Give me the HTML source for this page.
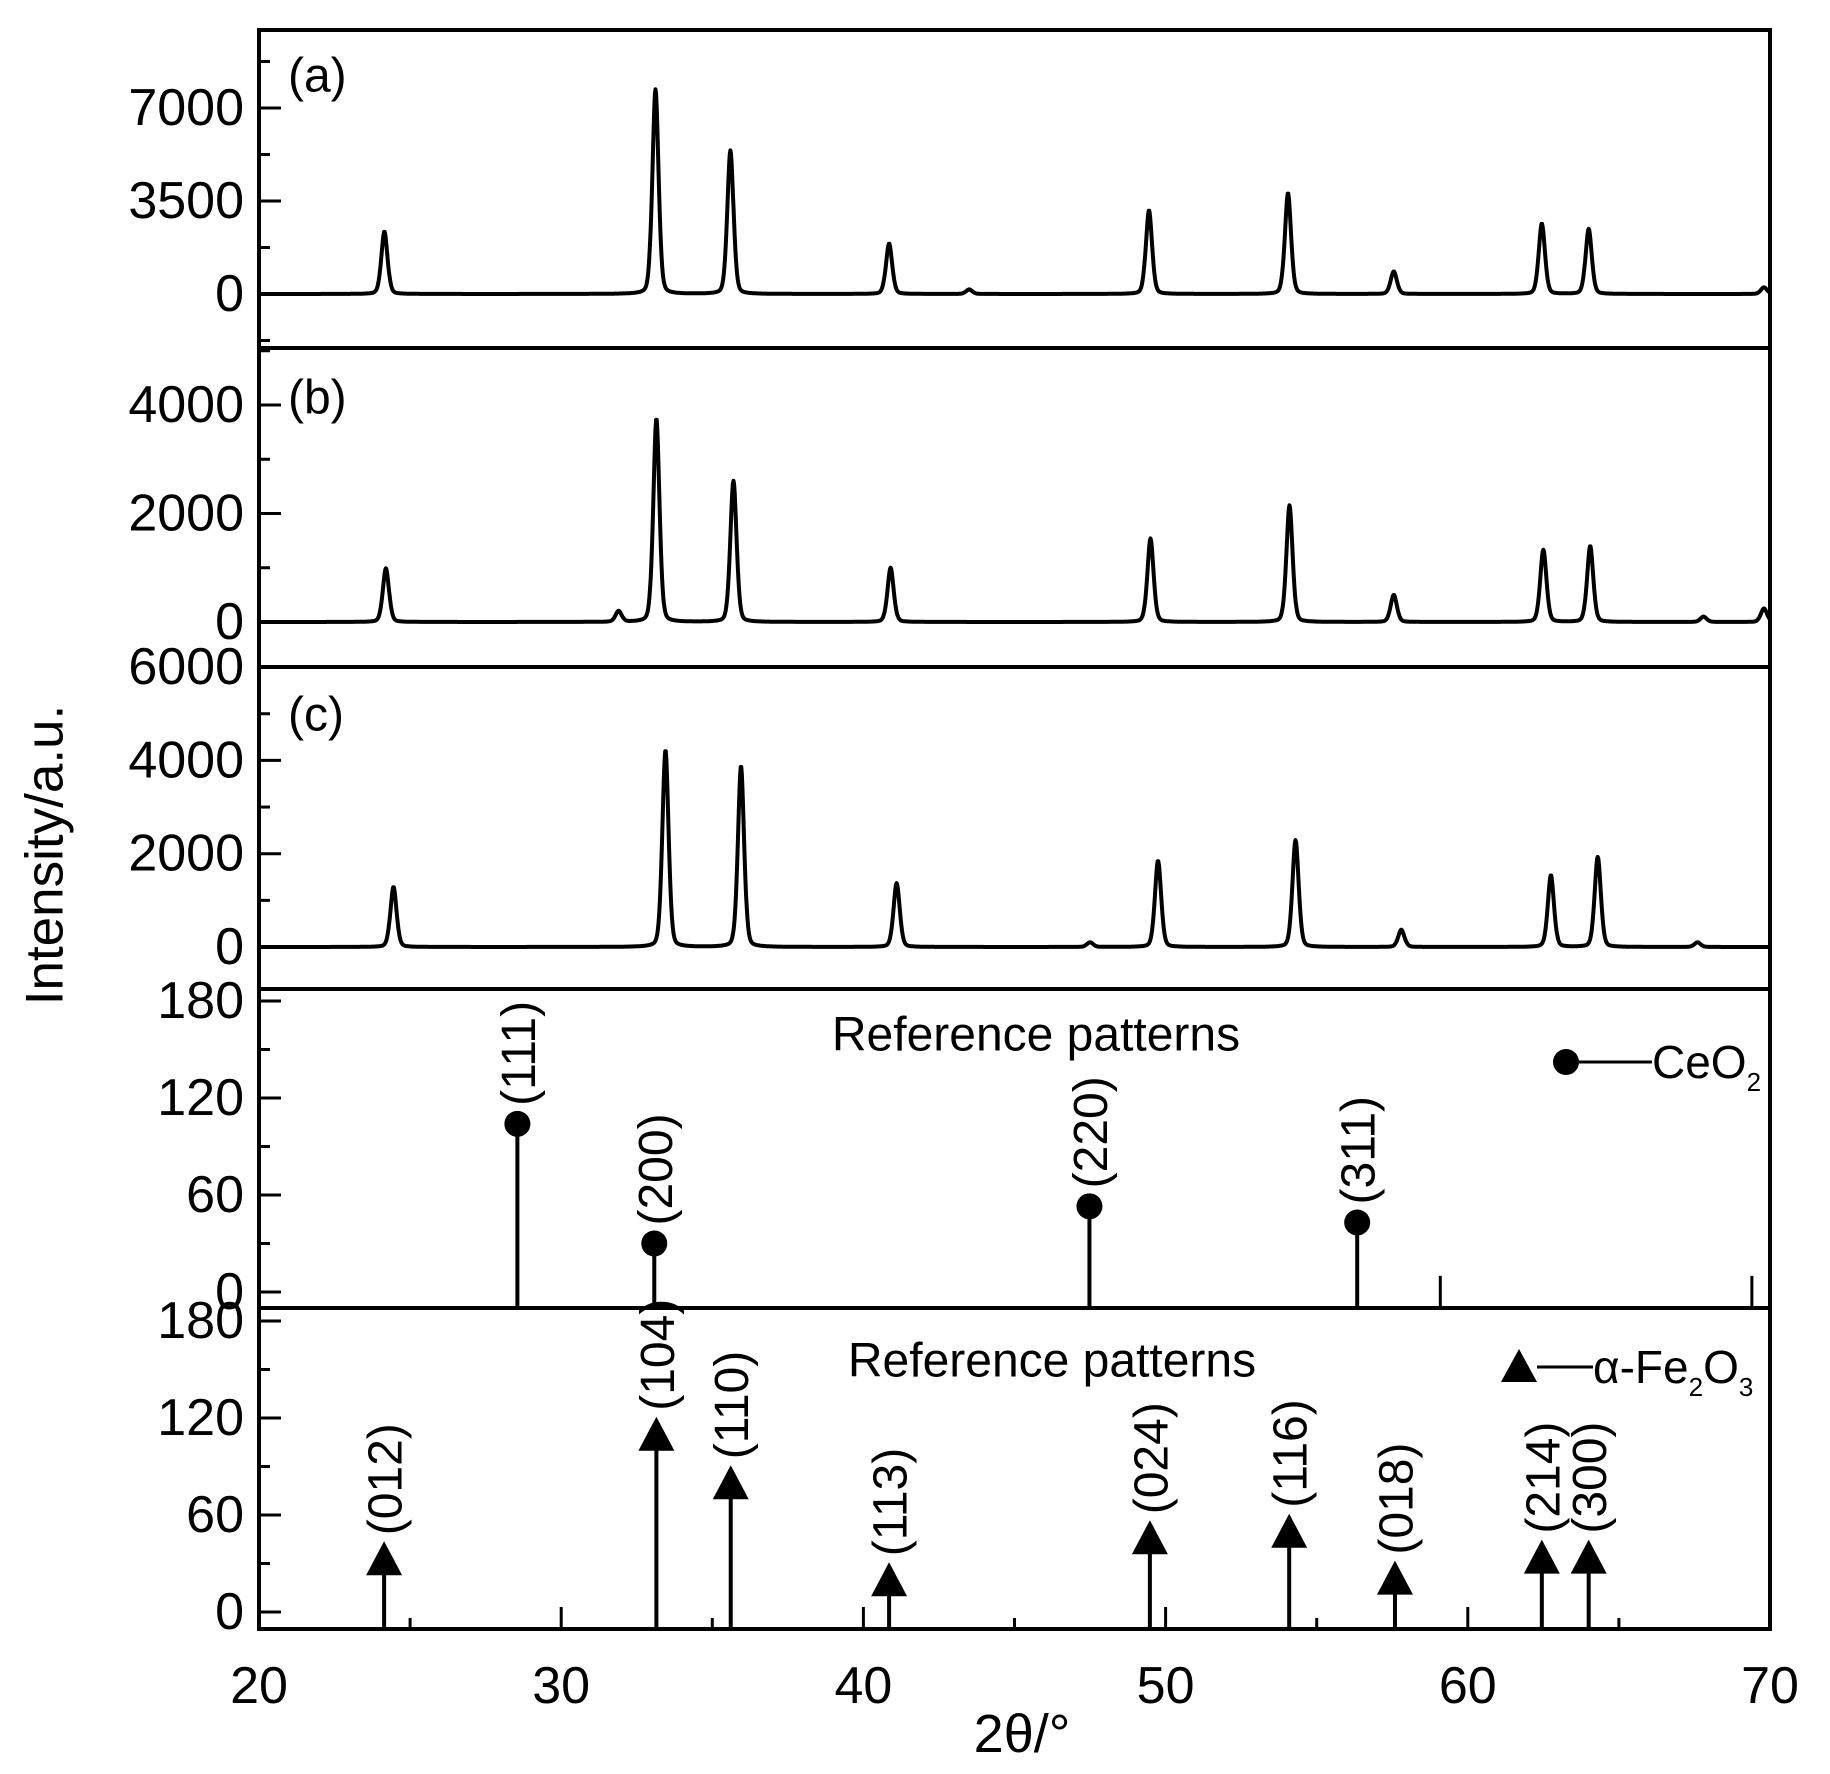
<!DOCTYPE html>
<html><head><meta charset="utf-8"><style>
html,body{margin:0;padding:0;background:#fff}
svg{display:block}
text{font-family:"Liberation Sans",Arial,sans-serif;fill:#000}
</style></head><body>
<svg id="chart" width="1830" height="1774" viewBox="0 0 1830 1774" xmlns="http://www.w3.org/2000/svg"></svg>
<script>
// ---- data ----
const xTicks = [20,30,40,50,60,70];
const peaksA_pos = [24.15,33.12,35.6,40.85,43.5,49.45,54.05,57.55,62.45,64.0,69.8];
const peaksA_h   = [2350,7700,5400,1900,170,3150,3800,850,2650,2450,250];
const peaksB_pos = [24.2,31.9,33.15,35.7,40.9,49.5,54.1,57.55,62.5,64.05,67.8,69.8];
const peaksB_h   = [990,200,3750,2600,1000,1540,2150,500,1330,1400,100,250];
const peaksC_pos = [24.45,33.45,35.95,41.1,47.5,49.75,54.3,57.8,62.75,64.3,67.6];
const peaksC_h   = [1290,4220,3880,1370,100,1850,2290,370,1540,1930,100];
const ceo2_pos = [28.55,33.08,47.48,56.34];
const ceo2_val = [104,30,53,43];
const ceo2_hkl = ["(111)","(200)","(220)","(311)"];
const ceo2_minor_pos = [59.09,69.4];
const ceo2_minor_val = [10,10];
const fe_pos = [24.14,33.15,35.61,40.85,49.48,54.09,57.59,62.45,64.0];
const fe_val = [32,109,79,19,45,49,20,33,33];
const fe_hkl = ["(012)","(104)","(110)","(113)","(024)","(116)","(018)","(214)","(300)"];

// ---- layout ----
const X0=259, X1=1770;
const xs = v => X0 + (v-20)/(70-20)*(X1-X0);
const svg = document.getElementById('chart');
const NS='http://www.w3.org/2000/svg';
function el(tag, attrs, parent){const e=document.createElementNS(NS,tag);for(const k in attrs)e.setAttribute(k,attrs[k]);(parent||svg).appendChild(e);return e;}

const panels = [
 {name:'panel-a', top:30, bottom:348, y0:294, unit:3500, px:93, major:[0,3500,7000], minor:[-1750,1750,5250,8750], labels:["0","3500","7000"], tag:"(a)", tagY:76, pos:peaksA_pos, h:peaksA_h},
 {name:'panel-b', top:348, bottom:667, y0:622, unit:2000, px:108.5, major:[0,2000,4000], minor:[1000,3000,5000], labels:["0","2000","4000"], tag:"(b)", tagY:398, pos:peaksB_pos, h:peaksB_h},
 {name:'panel-c', top:667, bottom:989, y0:947, unit:2000, px:93.3, major:[0,2000,4000,6000], minor:[1000,3000,5000], labels:["0","2000","4000","6000"], tag:"(c)", tagY:715, pos:peaksC_pos, h:peaksC_h},
 {name:'panel-ceo2', top:989, bottom:1308, y0:1292, unit:60, px:97, major:[0,60,120,180], minor:[30,90,150], labels:["0","60","120","180"]},
 {name:'panel-fe2o3', top:1308, bottom:1629, y0:1612, unit:60, px:97, major:[0,60,120,180], minor:[30,90,150], labels:["0","60","120","180"]}
];

panels.forEach(p=>{
  const g = el('g',{});
  
  
  const ys = v => p.y0 - v/p.unit*p.px;
  p.major.forEach((v,i)=>{
    const y=ys(v);
    const t=el('line',{x1:X0,x2:X0+22,y1:y,y2:y,stroke:'#000','stroke-width':3},g);
     
    const lb=el('text',{x:244,y:y,'font-size':52,'text-anchor':'end','dominant-baseline':'central'},g);
    lb.textContent=p.labels[i];
     
  });
  p.minor.forEach(v=>{
    const y=ys(v); if(y<p.top+2||y>p.bottom-2) return;
    const t=el('line',{x1:X0,x2:X0+11,y1:y,y2:y,stroke:'#000','stroke-width':3},g);
     
  });
  if(p.pos){
    let d='';
    for(let x=20;x<=70.0001;x+=0.02){
      let v=0;
      for(let k=0;k<p.pos.length;k++){
        const dx=(x-p.pos[k]);
        const w=0.14;
        v+=p.h[k]*(0.7*Math.exp(-dx*dx/(2*w*w*0.6)) + 0.3/(1+dx*dx/(w*w*0.5)));
      }
      d+=(d?'L':'M')+xs(x).toFixed(1)+','+ys(v).toFixed(1);
    }
    const path=el('path',{d:d,fill:'none',stroke:'#000','stroke-width':4,'stroke-linejoin':'round'},g);
     
    const tg=el('text',{x:288,y:p.tagY,'font-size':48,'dominant-baseline':'central'},g);
    tg.textContent=p.tag;
     
  }
  if(p.name==='panel-ceo2'){
    ceo2_pos.forEach((x,i)=>{
      const y=ys(ceo2_val[i]);
      const s=el('line',{x1:xs(x),x2:xs(x),y1:p.y0+16,y2:y,stroke:'#000','stroke-width':4},g);
       
      const c=el('circle',{cx:xs(x),cy:y,r:13,fill:'#000'},g);
       
      const t=el('text',{x:0,y:0,'font-size':48,'dominant-baseline':'central',transform:`translate(${xs(x)+2},${y-18}) rotate(-90)`},g);
      t.textContent=ceo2_hkl[i];
       
    });
    ceo2_minor_pos.forEach((x,i)=>{
      const s=el('line',{x1:xs(x),x2:xs(x),y1:p.y0+16,y2:ys(ceo2_minor_val[i]),stroke:'#000','stroke-width':3},g);
       
    });
    const rt=el('text',{x:1036,y:1035,'font-size':48,'text-anchor':'middle','dominant-baseline':'central'},g);
    rt.textContent='Reference patterns';
     
    const lg=el('g',{},g);
     
    el('circle',{cx:1566,cy:1062,r:13,fill:'#000'},lg);
    el('line',{x1:1579,x2:1652,y1:1062,y2:1062,stroke:'#000','stroke-width':3},lg);
    const lt=el('text',{x:1652,y:1062,'font-size':46,'dominant-baseline':'central'},lg);
    lt.innerHTML='CeO<tspan font-size="26" dy="20">2</tspan>';
  }
  if(p.name==='panel-fe2o3'){
    fe_pos.forEach((x,i)=>{
      const y=ys(fe_val[i]); const cx=xs(x);
      const s=el('line',{x1:cx,x2:cx,y1:p.y0+17,y2:y,stroke:'#000','stroke-width':4},g);
       
      const tr=el('polygon',{points:`${cx},${y-19} ${cx-18},${y+15} ${cx+18},${y+15}`,fill:'#000'},g);
       
      const t=el('text',{x:0,y:0,'font-size':48,'dominant-baseline':'central',transform:`translate(${cx+2},${y-25}) rotate(-90)`},g);
      t.textContent=fe_hkl[i];
       
    });
    const rt=el('text',{x:1052,y:1361,'font-size':48,'text-anchor':'middle','dominant-baseline':'central'},g);
    rt.textContent='Reference patterns';
     
    const lg=el('g',{},g);
     
    el('polygon',{points:'1519,1349 1501,1382 1537,1382',fill:'#000'},lg);
    el('line',{x1:1537,x2:1593,y1:1367,y2:1367,stroke:'#000','stroke-width':3},lg);
    const lt=el('text',{x:1593,y:1367,'font-size':46,'dominant-baseline':'central'},lg);
    lt.innerHTML='α-Fe<tspan font-size="26" dy="20">2</tspan><tspan dy="-20">O</tspan><tspan font-size="26" dy="20">3</tspan>';
  }
  const r=el('rect',{x:X0,y:p.top,width:X1-X0,height:p.bottom-p.top,fill:'none',stroke:'#000','stroke-width':4},g);
   
});

// x axis ticks
for(let v=20;v<=70;v+=5){
  const major = v%10===0;
  if(v===20||v===70) continue;
  const t=el('line',{x1:xs(v),x2:xs(v),y1:1629,y2:1629-(major?22:11),stroke:'#000','stroke-width':3});
   
}
xTicks.forEach(v=>{
  const t=el('text',{x:xs(v),y:1686,'font-size':52,'text-anchor':'middle','dominant-baseline':'central'});
  t.textContent=String(v);
   
});
const xt=el('text',{x:1022,y:1734,'font-size':54,'text-anchor':'middle','dominant-baseline':'central'});
xt.textContent='2θ/°';
 
const yt=el('text',{x:0,y:0,'font-size':53,'text-anchor':'middle','dominant-baseline':'central',transform:'translate(45,855) rotate(-90)'});
yt.textContent='Intensity/a.u.';
 
</script>
</body></html>
